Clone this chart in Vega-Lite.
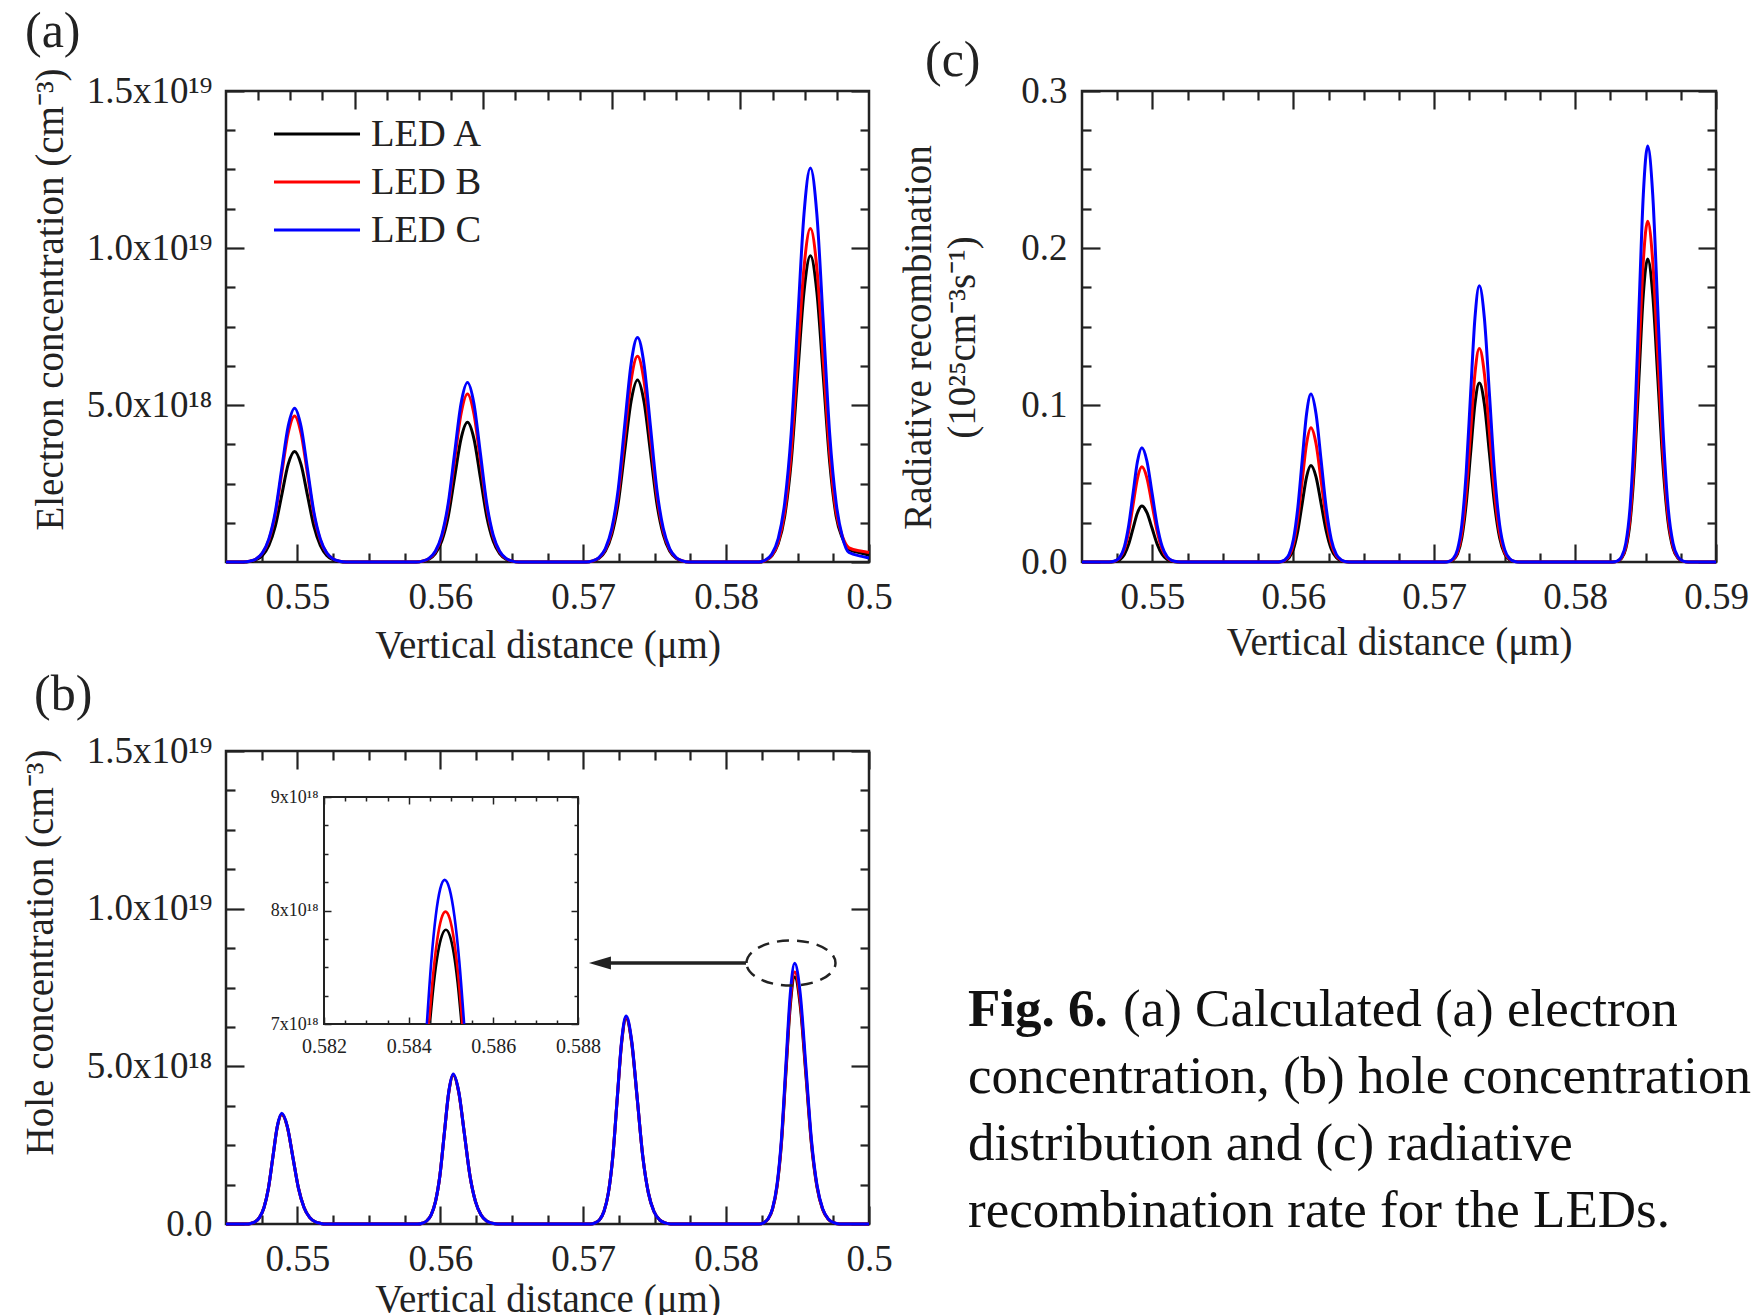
{
"$schema": "https://vega.github.io/schema/vega-lite/v6.json",
"autosize": {"type": "none"},
"padding": {"left": 226, "top": 91, "right": 1526, "bottom": 1224},
"background": "white",
"config": {
  "font": "Liberation Serif",
  "view": {"stroke": "#222", "strokeWidth": 2.5},
  "axis": {"grid": false, "domain": false, "labelFont": "Liberation Serif", "titleFont": "Liberation Serif", "labelFontSize": 37, "titleFontSize": 39, "titleFontWeight": "normal", "labelColor": "#222", "titleColor": "#222", "tickColor": "#222", "tickWidth": 2.2, "labelFlush": false, "labelOverlap": false},
  "title": {"font": "Liberation Serif", "fontSize": 50, "fontWeight": "normal", "color": "#222"}
},
"datasets": {
  "a": [
    {"x":0.545,"A":0,"B":0,"C":0},
    {"x":0.5462,"A":0,"B":0,"C":0},
    {"x":0.54665,"A":0.018e18,"B":0.023e18,"C":0.025e18},
    {"x":0.5471,"A":0.07e18,"B":0.093e18,"C":0.098e18},
    {"x":0.54755,"A":0.21e18,"B":0.28e18,"C":0.29e18},
    {"x":0.548,"A":0.53e18,"B":0.7e18,"C":0.735e18},
    {"x":0.54845,"A":1.14e18,"B":1.51e18,"C":1.59e18},
    {"x":0.5489,"A":2.13e18,"B":2.82e18,"C":2.97e18},
    {"x":0.54935,"A":3.11e18,"B":4.1e18,"C":4.32e18},
    {"x":0.5498,"A":3.52e18,"B":4.65e18,"C":4.9e18},
    {"x":0.55025,"A":3.11e18,"B":4.1e18,"C":4.32e18},
    {"x":0.5507,"A":2.13e18,"B":2.82e18,"C":2.97e18},
    {"x":0.55115,"A":1.14e18,"B":1.51e18,"C":1.59e18},
    {"x":0.5516,"A":0.53e18,"B":0.7e18,"C":0.735e18},
    {"x":0.55205,"A":0.21e18,"B":0.28e18,"C":0.29e18},
    {"x":0.5525,"A":0.07e18,"B":0.093e18,"C":0.098e18},
    {"x":0.55295,"A":0.018e18,"B":0.023e18,"C":0.025e18},
    {"x":0.5534,"A":0,"B":0,"C":0},
    {"x":0.5583,"A":0,"B":0,"C":0},
    {"x":0.55875,"A":0.022e18,"B":0.027e18,"C":0.029e18},
    {"x":0.5592,"A":0.089e18,"B":0.107e18,"C":0.114e18},
    {"x":0.55965,"A":0.267e18,"B":0.321e18,"C":0.343e18},
    {"x":0.5601,"A":0.668e18,"B":0.8e18,"C":0.858e18},
    {"x":0.56055,"A":1.445e18,"B":1.74e18,"C":1.86e18},
    {"x":0.561,"A":2.7e18,"B":3.24e18,"C":3.47e18},
    {"x":0.56145,"A":3.93e18,"B":4.72e18,"C":5.05e18},
    {"x":0.5619,"A":4.45e18,"B":5.35e18,"C":5.72e18},
    {"x":0.56235,"A":3.93e18,"B":4.72e18,"C":5.05e18},
    {"x":0.5628,"A":2.7e18,"B":3.24e18,"C":3.47e18},
    {"x":0.56325,"A":1.445e18,"B":1.74e18,"C":1.86e18},
    {"x":0.5637,"A":0.668e18,"B":0.8e18,"C":0.858e18},
    {"x":0.56415,"A":0.267e18,"B":0.321e18,"C":0.343e18},
    {"x":0.5646,"A":0.089e18,"B":0.107e18,"C":0.114e18},
    {"x":0.56505,"A":0.022e18,"B":0.027e18,"C":0.029e18},
    {"x":0.5655,"A":0,"B":0,"C":0},
    {"x":0.5702,"A":0,"B":0,"C":0},
    {"x":0.57065,"A":0.029e18,"B":0.033e18,"C":0.036e18},
    {"x":0.5711,"A":0.116e18,"B":0.131e18,"C":0.143e18},
    {"x":0.57155,"A":0.348e18,"B":0.393e18,"C":0.429e18},
    {"x":0.572,"A":0.87e18,"B":0.98e18,"C":1.07e18},
    {"x":0.57245,"A":1.88e18,"B":2.13e18,"C":2.32e18},
    {"x":0.5729,"A":3.52e18,"B":3.97e18,"C":4.34e18},
    {"x":0.57335,"A":5.12e18,"B":5.78e18,"C":6.31e18},
    {"x":0.5738,"A":5.8e18,"B":6.55e18,"C":7.15e18},
    {"x":0.57425,"A":5.12e18,"B":5.78e18,"C":6.31e18},
    {"x":0.5747,"A":3.52e18,"B":3.97e18,"C":4.34e18},
    {"x":0.57515,"A":1.88e18,"B":2.13e18,"C":2.32e18},
    {"x":0.5756,"A":0.87e18,"B":0.98e18,"C":1.07e18},
    {"x":0.57605,"A":0.348e18,"B":0.393e18,"C":0.429e18},
    {"x":0.5765,"A":0.116e18,"B":0.131e18,"C":0.143e18},
    {"x":0.57695,"A":0.029e18,"B":0.033e18,"C":0.036e18},
    {"x":0.5774,"A":0,"B":0,"C":0},
    {"x":0.5823,"A":0,"B":0,"C":0},
    {"x":0.58275,"A":0.049e18,"B":0.053e18,"C":0.063e18},
    {"x":0.5832,"A":0.195e18,"B":0.212e18,"C":0.251e18},
    {"x":0.58365,"A":0.585e18,"B":0.637e18,"C":0.753e18},
    {"x":0.5841,"A":1.46e18,"B":1.59e18,"C":1.88e18},
    {"x":0.58455,"A":3.17e18,"B":3.45e18,"C":4.07e18},
    {"x":0.585,"A":5.91e18,"B":6.44e18,"C":7.61e18},
    {"x":0.58545,"A":8.6e18,"B":9.37e18,"C":11.08e18},
    {"x":0.5859,"A":9.75e18,"B":10.62e18,"C":12.55e18},
    {"x":0.58635,"A":8.6e18,"B":9.37e18,"C":11.08e18},
    {"x":0.5868,"A":5.91e18,"B":6.44e18,"C":7.61e18},
    {"x":0.58725,"A":3.17e18,"B":3.45e18,"C":4.07e18},
    {"x":0.5877,"A":1.46e18,"B":1.59e18,"C":1.88e18},
    {"x":0.58815,"A":0.75e18,"B":0.8e18,"C":0.78e18},
    {"x":0.5886,"A":0.4e18,"B":0.45e18,"C":0.3e18},
    {"x":0.5895,"A":0.28e18,"B":0.34e18,"C":0.18e18},
    {"x":0.59,"A":0.22e18,"B":0.3e18,"C":0.13e18}
  ],
  "b": [
    {"x":0.545,"A":0,"B":0,"C":0},
    {"x":0.54642,"A":0,"B":0,"C":0},
    {"x":0.54673,"A":0.0175e18,"B":0.0175e18,"C":0.0175e18},
    {"x":0.54704,"A":0.07e18,"B":0.07e18,"C":0.07e18},
    {"x":0.54735,"A":0.21e18,"B":0.21e18,"C":0.21e18},
    {"x":0.54766,"A":0.525e18,"B":0.525e18,"C":0.525e18},
    {"x":0.54797,"A":1.136e18,"B":1.136e18,"C":1.136e18},
    {"x":0.54828,"A":2.12e18,"B":2.12e18,"C":2.12e18},
    {"x":0.54859,"A":3.08e18,"B":3.09e18,"C":3.1e18},
    {"x":0.5489,"A":3.47e18,"B":3.49e18,"C":3.51e18},
    {"x":0.54929,"A":3.08e18,"B":3.09e18,"C":3.1e18},
    {"x":0.54968,"A":2.12e18,"B":2.12e18,"C":2.12e18},
    {"x":0.55007,"A":1.136e18,"B":1.136e18,"C":1.136e18},
    {"x":0.55046,"A":0.525e18,"B":0.525e18,"C":0.525e18},
    {"x":0.55085,"A":0.21e18,"B":0.21e18,"C":0.21e18},
    {"x":0.55124,"A":0.07e18,"B":0.07e18,"C":0.07e18},
    {"x":0.55163,"A":0.0175e18,"B":0.0175e18,"C":0.0175e18},
    {"x":0.55202,"A":0,"B":0,"C":0},
    {"x":0.55842,"A":0,"B":0,"C":0},
    {"x":0.55873,"A":0.024e18,"B":0.024e18,"C":0.024e18},
    {"x":0.55904,"A":0.095e18,"B":0.095e18,"C":0.095e18},
    {"x":0.55935,"A":0.284e18,"B":0.284e18,"C":0.284e18},
    {"x":0.55966,"A":0.711e18,"B":0.711e18,"C":0.711e18},
    {"x":0.55997,"A":1.539e18,"B":1.539e18,"C":1.539e18},
    {"x":0.56028,"A":2.875e18,"B":2.875e18,"C":2.875e18},
    {"x":0.56059,"A":4.17e18,"B":4.18e18,"C":4.2e18},
    {"x":0.5609,"A":4.72e18,"B":4.74e18,"C":4.76e18},
    {"x":0.56129,"A":4.17e18,"B":4.18e18,"C":4.2e18},
    {"x":0.56168,"A":2.875e18,"B":2.875e18,"C":2.875e18},
    {"x":0.56207,"A":1.539e18,"B":1.539e18,"C":1.539e18},
    {"x":0.56246,"A":0.711e18,"B":0.711e18,"C":0.711e18},
    {"x":0.56285,"A":0.284e18,"B":0.284e18,"C":0.284e18},
    {"x":0.56324,"A":0.095e18,"B":0.095e18,"C":0.095e18},
    {"x":0.56363,"A":0.024e18,"B":0.024e18,"C":0.024e18},
    {"x":0.56402,"A":0,"B":0,"C":0},
    {"x":0.57052,"A":0,"B":0,"C":0},
    {"x":0.57083,"A":0.033e18,"B":0.033e18,"C":0.033e18},
    {"x":0.57114,"A":0.132e18,"B":0.132e18,"C":0.132e18},
    {"x":0.57145,"A":0.395e18,"B":0.395e18,"C":0.395e18},
    {"x":0.57176,"A":0.987e18,"B":0.987e18,"C":0.987e18},
    {"x":0.57207,"A":2.137e18,"B":2.137e18,"C":2.137e18},
    {"x":0.57238,"A":3.96e18,"B":3.98e18,"C":3.99e18},
    {"x":0.57269,"A":5.75e18,"B":5.78e18,"C":5.82e18},
    {"x":0.573,"A":6.52e18,"B":6.55e18,"C":6.6e18},
    {"x":0.57339,"A":5.75e18,"B":5.78e18,"C":5.82e18},
    {"x":0.57378,"A":3.96e18,"B":3.98e18,"C":3.99e18},
    {"x":0.57417,"A":2.137e18,"B":2.137e18,"C":2.137e18},
    {"x":0.57456,"A":0.987e18,"B":0.987e18,"C":0.987e18},
    {"x":0.57495,"A":0.395e18,"B":0.395e18,"C":0.395e18},
    {"x":0.57534,"A":0.132e18,"B":0.132e18,"C":0.132e18},
    {"x":0.57573,"A":0.033e18,"B":0.033e18,"C":0.033e18},
    {"x":0.57612,"A":0,"B":0,"C":0},
    {"x":0.58232,"A":0,"B":0,"C":0},
    {"x":0.58263,"A":0.039e18,"B":0.04e18,"C":0.041e18},
    {"x":0.58294,"A":0.157e18,"B":0.16e18,"C":0.165e18},
    {"x":0.58325,"A":0.47e18,"B":0.479e18,"C":0.496e18},
    {"x":0.58356,"A":1.175e18,"B":1.199e18,"C":1.24e18},
    {"x":0.58387,"A":2.542e18,"B":2.594e18,"C":2.685e18},
    {"x":0.58418,"A":4.749e18,"B":4.846e18,"C":5.016e18},
    {"x":0.58449,"A":6.91e18,"B":7.051e18,"C":7.298e18},
    {"x":0.5848,"A":7.83e18,"B":7.99e18,"C":8.27e18},
    {"x":0.58519,"A":6.91e18,"B":7.051e18,"C":7.298e18},
    {"x":0.58558,"A":4.749e18,"B":4.846e18,"C":5.016e18},
    {"x":0.58597,"A":2.542e18,"B":2.594e18,"C":2.685e18},
    {"x":0.58636,"A":1.175e18,"B":1.199e18,"C":1.24e18},
    {"x":0.58675,"A":0.47e18,"B":0.479e18,"C":0.496e18},
    {"x":0.58714,"A":0.157e18,"B":0.16e18,"C":0.165e18},
    {"x":0.58753,"A":0.039e18,"B":0.04e18,"C":0.041e18},
    {"x":0.58792,"A":0,"B":0,"C":0},
    {"x":0.59,"A":0,"B":0,"C":0}
  ],
  "c": [
    {"x":0.545,"A":0,"B":0,"C":0},
    {"x":0.54677,"A":0,"B":0,"C":0},
    {"x":0.54708,"A":0.00007,"B":0.00012,"C":0.00015},
    {"x":0.54739,"A":0.00043,"B":0.00073,"C":0.00087},
    {"x":0.5477,"A":0.0016,"B":0.00273,"C":0.00327},
    {"x":0.54801,"A":0.0048,"B":0.0082,"C":0.00984},
    {"x":0.54832,"A":0.01156,"B":0.01968,"C":0.02361},
    {"x":0.54863,"A":0.0216,"B":0.03675,"C":0.04409},
    {"x":0.54894,"A":0.0314,"B":0.05348,"C":0.06416},
    {"x":0.54925,"A":0.0356,"B":0.0606,"C":0.0727},
    {"x":0.54961,"A":0.0314,"B":0.05348,"C":0.06416},
    {"x":0.54997,"A":0.0216,"B":0.03675,"C":0.04409},
    {"x":0.55033,"A":0.01156,"B":0.01968,"C":0.02361},
    {"x":0.55069,"A":0.0048,"B":0.0082,"C":0.00984},
    {"x":0.55105,"A":0.0016,"B":0.00273,"C":0.00327},
    {"x":0.55141,"A":0.00043,"B":0.00073,"C":0.00087},
    {"x":0.55177,"A":0.00007,"B":0.00012,"C":0.00015},
    {"x":0.55213,"A":0,"B":0,"C":0},
    {"x":0.55877,"A":0,"B":0,"C":0},
    {"x":0.55908,"A":0.00012,"B":0.00017,"C":0.00021},
    {"x":0.55939,"A":0.00074,"B":0.00103,"C":0.00128},
    {"x":0.5597,"A":0.00277,"B":0.00385,"C":0.00482},
    {"x":0.56001,"A":0.00832,"B":0.01157,"C":0.01448},
    {"x":0.56032,"A":0.01997,"B":0.02776,"C":0.03474},
    {"x":0.56063,"A":0.0373,"B":0.05186,"C":0.0649},
    {"x":0.56094,"A":0.05427,"B":0.07545,"C":0.09443},
    {"x":0.56125,"A":0.0615,"B":0.0855,"C":0.107},
    {"x":0.56161,"A":0.05427,"B":0.07545,"C":0.09443},
    {"x":0.56197,"A":0.0373,"B":0.05186,"C":0.0649},
    {"x":0.56233,"A":0.01997,"B":0.02776,"C":0.03474},
    {"x":0.56269,"A":0.00832,"B":0.01157,"C":0.01448},
    {"x":0.56305,"A":0.00277,"B":0.00385,"C":0.00482},
    {"x":0.56341,"A":0.00074,"B":0.00103,"C":0.00128},
    {"x":0.56377,"A":0.00012,"B":0.00017,"C":0.00021},
    {"x":0.56413,"A":0,"B":0,"C":0},
    {"x":0.57072,"A":0,"B":0,"C":0},
    {"x":0.57103,"A":0.00023,"B":0.00027,"C":0.00035},
    {"x":0.57134,"A":0.00137,"B":0.00163,"C":0.00211},
    {"x":0.57165,"A":0.00513,"B":0.00612,"C":0.00792},
    {"x":0.57196,"A":0.01542,"B":0.0184,"C":0.02381},
    {"x":0.57227,"A":0.03702,"B":0.04416,"C":0.05715},
    {"x":0.57258,"A":0.06914,"B":0.08248,"C":0.10674},
    {"x":0.57289,"A":0.1006,"B":0.12002,"C":0.15532},
    {"x":0.5732,"A":0.114,"B":0.136,"C":0.176},
    {"x":0.57356,"A":0.1006,"B":0.12002,"C":0.15532},
    {"x":0.57392,"A":0.06914,"B":0.08248,"C":0.10674},
    {"x":0.57428,"A":0.03702,"B":0.04416,"C":0.05715},
    {"x":0.57464,"A":0.01542,"B":0.0184,"C":0.02381},
    {"x":0.575,"A":0.00513,"B":0.00612,"C":0.00792},
    {"x":0.57536,"A":0.00137,"B":0.00163,"C":0.00211},
    {"x":0.57572,"A":0.00023,"B":0.00027,"C":0.00035},
    {"x":0.57608,"A":0,"B":0,"C":0},
    {"x":0.58267,"A":0,"B":0,"C":0},
    {"x":0.58298,"A":0.00039,"B":0.00043,"C":0.00053},
    {"x":0.58329,"A":0.00232,"B":0.0026,"C":0.00318},
    {"x":0.5836,"A":0.00869,"B":0.00977,"C":0.01193},
    {"x":0.58391,"A":0.02611,"B":0.02936,"C":0.03585},
    {"x":0.58422,"A":0.06267,"B":0.07046,"C":0.08605},
    {"x":0.58453,"A":0.11705,"B":0.13161,"C":0.16072},
    {"x":0.58484,"A":0.17032,"B":0.1915,"C":0.23386},
    {"x":0.58515,"A":0.193,"B":0.217,"C":0.265},
    {"x":0.58551,"A":0.17032,"B":0.1915,"C":0.23386},
    {"x":0.58587,"A":0.11705,"B":0.13161,"C":0.16072},
    {"x":0.58623,"A":0.06267,"B":0.07046,"C":0.08605},
    {"x":0.58659,"A":0.02611,"B":0.02936,"C":0.03585},
    {"x":0.58695,"A":0.00869,"B":0.00977,"C":0.01193},
    {"x":0.58731,"A":0.00232,"B":0.0026,"C":0.00318},
    {"x":0.58767,"A":0.00039,"B":0.00043,"C":0.00053},
    {"x":0.58803,"A":0,"B":0,"C":0},
    {"x":0.59,"A":0,"B":0,"C":0}
  ],
  "ins": [
    {"led":"A","x":0.5845,"y":7.0e18},
    {"led":"A","x":0.584595,"y":7.363e18},
    {"led":"A","x":0.58469,"y":7.6225e18},
    {"led":"A","x":0.584785,"y":7.778e18},
    {"led":"A","x":0.58488,"y":7.83e18},
    {"led":"A","x":0.5849725,"y":7.778e18},
    {"led":"A","x":0.585065,"y":7.6225e18},
    {"led":"A","x":0.5851575,"y":7.363e18},
    {"led":"A","x":0.58525,"y":7.0e18},
    {"led":"B","x":0.58448,"y":7.0e18},
    {"led":"B","x":0.5845775,"y":7.433e18},
    {"led":"B","x":0.584675,"y":7.7425e18},
    {"led":"B","x":0.5847725,"y":7.928e18},
    {"led":"B","x":0.58487,"y":7.99e18},
    {"led":"B","x":0.58497,"y":7.928e18},
    {"led":"B","x":0.58507,"y":7.7425e18},
    {"led":"B","x":0.58517,"y":7.433e18},
    {"led":"B","x":0.58527,"y":7.0e18},
    {"led":"C","x":0.58443,"y":7.0e18},
    {"led":"C","x":0.584535,"y":7.556e18},
    {"led":"C","x":0.58464,"y":7.9525e18},
    {"led":"C","x":0.584745,"y":8.19e18},
    {"led":"C","x":0.58485,"y":8.27e18},
    {"led":"C","x":0.584965,"y":8.19e18},
    {"led":"C","x":0.58508,"y":7.9525e18},
    {"led":"C","x":0.585195,"y":7.556e18},
    {"led":"C","x":0.58531,"y":7.0e18}
  ],
  "cap": [
    {"line":1,"head":"Fig. 6.","text":"(a) Calculated (a) electron"},
    {"line":2,"text":"concentration, (b) hole concentration"},
    {"line":3,"text":"distribution and (c) radiative"},
    {"line":4,"text":"recombination rate for the LEDs."}
  ]
},
"columns": 2,
"spacing": {"row": 189, "column": 213},
"bounds": "flush",
"resolve": {"scale": {"color": "independent"}, "legend": {"color": "independent"}},
"concat": [
  {
    "width": 643, "height": 471,
    "title": {"text": "(a)", "anchor": "start", "frame": "group", "dx": -201, "offset": -39, "baseline": "bottom"},
    "layer": [
      {
        "data": {"name": "a"},
        "transform": [{"fold": ["A", "B", "C"], "as": ["led", "n"]}],
        "mark": {"type": "line", "strokeWidth": 3, "interpolate": "monotone"},
        "encoding": {
          "x": {"field": "x", "type": "quantitative", "scale": {"domain": [0.545, 0.59], "nice": false, "zero": false},
            "axis": {"orient": "bottom", "values": [0.5475,0.55,0.5525,0.555,0.5575,0.56,0.5625,0.565,0.5675,0.57,0.5725,0.575,0.5775,0.58,0.5825,0.585,0.5875,0.59],
              "labelExpr": "abs(datum.value*100-round(datum.value*100))<0.01 ? (datum.value>0.585 ? '0.5' : format(datum.value,'.2f')) : ''",
              "tickSize": {"condition": {"test": "abs(datum.value*100-round(datum.value*100))<0.01", "value": -18}, "value": -9},
              "labelPadding": 35, "title": "Vertical distance (μm)", "titleY": 95, "titleBaseline": "alphabetic"}},
          "y": {"field": "n", "type": "quantitative", "scale": {"domain": [0, 1.5e19], "nice": false},
            "axis": {"orient": "left", "values": [0,1.25e18,2.5e18,3.75e18,5e18,6.25e18,7.5e18,8.75e18,1e19,1.125e19,1.25e19,1.375e19,1.5e19],
              "labelExpr": "datum.value==5e18 ? '5.0x10¹⁸' : datum.value==1e19 ? '1.0x10¹⁹' : datum.value==1.5e19 ? '1.5x10¹⁹' : ''",
              "tickSize": {"condition": {"test": "abs(datum.value/5e18-round(datum.value/5e18))<0.01", "value": -18}, "value": -9},
              "labelPadding": 32, "title": "Electron concentration (cm⁻³)", "titleX": -164, "titleY": 208, "titleAngle": -90, "titleAlign": "center", "titleBaseline": "alphabetic"}},
          "color": {"field": "led", "type": "nominal", "scale": {"domain": ["A", "B", "C"], "range": ["#000000", "#ff0000", "#0000ff"]},
            "legend": {"orient": "none", "legendX": 46, "legendY": 19, "title": null, "symbolType": "stroke", "symbolSize": 7400, "symbolStrokeWidth": 3, "labelFontSize": 38.5, "labelFont": "Liberation Serif", "labelColor": "#222", "labelOffset": 9, "rowPadding": 0, "clipHeight": 48, "padding": 0, "labelLimit": 400, "labelExpr": "'LED ' + datum.label"}}
        }
      },
      {
        "data": {"values": [{}]},
        "mark": {"type": "point", "opacity": 0},
        "encoding": {
          "x": {"datum": 0, "type": "quantitative", "scale": {"domain": [0, 5], "nice": false, "zero": false},
            "axis": {"orient": "top", "values": [0.25,0.5,0.75,1,1.25,1.5,1.75,2,2.25,2.5,2.75,3,3.25,3.5,3.75,4,4.25,4.5,4.75], "labels": false, "title": null,
              "tickSize": {"condition": {"test": "abs(datum.value-round(datum.value))<0.01", "value": -18}, "value": -9}}},
          "y": {"datum": 0, "type": "quantitative", "scale": {"domain": [0, 1.5e19], "nice": false},
            "axis": {"orient": "right", "values": [0,1.25e18,2.5e18,3.75e18,5e18,6.25e18,7.5e18,8.75e18,1e19,1.125e19,1.25e19,1.375e19,1.5e19], "labels": false, "title": null,
              "tickSize": {"condition": {"test": "abs(datum.value/5e18-round(datum.value/5e18))<0.01", "value": -18}, "value": -9}}}
        }
      }
    ],
    "resolve": {"scale": {"x": "independent", "y": "independent"}}
  },
  {
    "width": 634, "height": 471,
    "title": {"text": "(c)", "anchor": "start", "frame": "group", "dx": -157, "offset": -64, "baseline": "bottom"},
    "layer": [
      {
        "data": {"name": "c"},
        "transform": [{"fold": ["A", "B", "C"], "as": ["led", "r"]}],
        "mark": {"type": "line", "strokeWidth": 3, "interpolate": "monotone"},
        "encoding": {
          "x": {"field": "x", "type": "quantitative", "scale": {"domain": [0.545, 0.59], "nice": false, "zero": false},
            "axis": {"orient": "bottom", "values": [0.5475,0.55,0.5525,0.555,0.5575,0.56,0.5625,0.565,0.5675,0.57,0.5725,0.575,0.5775,0.58,0.5825,0.585,0.5875,0.59],
              "labelExpr": "abs(datum.value*100-round(datum.value*100))<0.01 ? format(datum.value,'.2f') : ''",
              "tickSize": {"condition": {"test": "abs(datum.value*100-round(datum.value*100))<0.01", "value": -18}, "value": -9},
              "labelPadding": 35, "title": "Vertical distance (μm)", "titleY": 92, "titleBaseline": "alphabetic"}},
          "y": {"field": "r", "type": "quantitative", "scale": {"domain": [0, 0.3], "nice": false},
            "axis": {"orient": "left", "values": [0,0.025,0.05,0.075,0.1,0.125,0.15,0.175,0.2,0.225,0.25,0.275,0.3],
              "labelExpr": "abs(datum.value*10-round(datum.value*10))<0.01 ? format(datum.value,'.1f') : ''",
              "tickSize": {"condition": {"test": "abs(datum.value*10-round(datum.value*10))<0.01", "value": -18}, "value": -9},
              "labelPadding": 33, "title": ["Radiative recombination", "(10²⁵cm⁻³s⁻¹)"], "titleX": -152, "titleY": 246, "titleAngle": -90, "titleAlign": "center", "titleBaseline": "alphabetic", "titleLineHeight": 44}},
          "color": {"field": "led", "type": "nominal", "scale": {"domain": ["A", "B", "C"], "range": ["#000000", "#ff0000", "#0000ff"]}, "legend": null}
        }
      },
      {
        "data": {"values": [{}]},
        "mark": {"type": "point", "opacity": 0},
        "encoding": {
          "x": {"datum": 0.56, "type": "quantitative", "scale": {"domain": [0.545, 0.59], "nice": false, "zero": false},
            "axis": {"orient": "top", "values": [0.5475,0.55,0.5525,0.555,0.5575,0.56,0.5625,0.565,0.5675,0.57,0.5725,0.575,0.5775,0.58,0.5825,0.585,0.5875,0.59], "labels": false, "title": null,
              "tickSize": {"condition": {"test": "abs(datum.value*100-round(datum.value*100))<0.01", "value": -18}, "value": -9}}},
          "y": {"datum": 0, "type": "quantitative", "scale": {"domain": [0, 0.3], "nice": false},
            "axis": {"orient": "right", "values": [0,0.025,0.05,0.075,0.1,0.125,0.15,0.175,0.2,0.225,0.25,0.275,0.3], "labels": false, "title": null,
              "tickSize": {"condition": {"test": "abs(datum.value*10-round(datum.value*10))<0.01", "value": -18}, "value": -9}}}
        }
      }
    ],
    "resolve": {"scale": {"x": "independent", "y": "independent"}}
  },
  {
    "width": 643, "height": 473,
    "title": {"text": "(b)", "anchor": "start", "frame": "group", "dx": -192, "offset": -38, "baseline": "bottom"},
    "layer": [
      {
        "data": {"name": "b"},
        "transform": [{"fold": ["A", "B", "C"], "as": ["led", "p"]}],
        "mark": {"type": "line", "strokeWidth": 3, "interpolate": "monotone"},
        "encoding": {
          "x": {"field": "x", "type": "quantitative", "scale": {"domain": [0.545, 0.59], "nice": false, "zero": false},
            "axis": {"orient": "bottom", "values": [0.5475,0.55,0.5525,0.555,0.5575,0.56,0.5625,0.565,0.5675,0.57,0.5725,0.575,0.5775,0.58,0.5825,0.585,0.5875,0.59],
              "labelExpr": "abs(datum.value*100-round(datum.value*100))<0.01 ? (datum.value>0.585 ? '0.5' : format(datum.value,'.2f')) : ''",
              "tickSize": {"condition": {"test": "abs(datum.value*100-round(datum.value*100))<0.01", "value": -18}, "value": -9},
              "labelPadding": 35, "title": "Vertical distance (μm)", "titleY": 87, "titleBaseline": "alphabetic"}},
          "y": {"field": "p", "type": "quantitative", "scale": {"domain": [0, 1.5e19], "nice": false},
            "axis": {"orient": "left", "values": [0,1.25e18,2.5e18,3.75e18,5e18,6.25e18,7.5e18,8.75e18,1e19,1.125e19,1.25e19,1.375e19,1.5e19],
              "labelExpr": "datum.value==0 ? '0.0' : datum.value==5e18 ? '5.0x10¹⁸' : datum.value==1e19 ? '1.0x10¹⁹' : datum.value==1.5e19 ? '1.5x10¹⁹' : ''",
              "tickSize": {"condition": {"test": "abs(datum.value/5e18-round(datum.value/5e18))<0.01", "value": -18}, "value": -9},
              "labelPadding": 32, "title": "Hole concentration (cm⁻³)", "titleX": -174, "titleY": 201, "titleAngle": -90, "titleAlign": "center", "titleBaseline": "alphabetic"}},
          "color": {"field": "led", "type": "nominal", "scale": {"domain": ["A", "B", "C"], "range": ["#000000", "#ff0000", "#0000ff"]}, "legend": null}
        }
      },
      {
        "data": {"values": [{}]},
        "mark": {"type": "point", "opacity": 0},
        "encoding": {
          "x": {"datum": 0.56, "type": "quantitative", "scale": {"domain": [0.545, 0.59], "nice": false, "zero": false},
            "axis": {"orient": "top", "values": [0.5475,0.55,0.5525,0.555,0.5575,0.56,0.5625,0.565,0.5675,0.57,0.5725,0.575,0.5775,0.58,0.5825,0.585,0.5875,0.59], "labels": false, "title": null,
              "tickSize": {"condition": {"test": "abs(datum.value*100-round(datum.value*100))<0.01", "value": -18}, "value": -9}}},
          "y": {"datum": 0, "type": "quantitative", "scale": {"domain": [0, 1.5e19], "nice": false},
            "axis": {"orient": "right", "values": [0,1.25e18,2.5e18,3.75e18,5e18,6.25e18,7.5e18,8.75e18,1e19,1.125e19,1.25e19,1.375e19,1.5e19], "labels": false, "title": null,
              "tickSize": {"condition": {"test": "abs(datum.value/5e18-round(datum.value/5e18))<0.01", "value": -18}, "value": -9}}}
        }
      },
      {
        "data": {"values": [{}]},
        "mark": {"type": "point", "shape": "M-1,0A1,0.506,0,1,1,1,0A1,0.506,0,1,1,-1,0Z", "size": 7921, "filled": false, "stroke": "#222", "strokeWidth": 2.5, "strokeDash": [12, 8], "opacity": 1},
        "encoding": {
          "x": {"datum": 0.58454, "type": "quantitative", "scale": {"domain": [0.545, 0.59], "nice": false, "zero": false}, "axis": null},
          "y": {"datum": 8.277e18, "type": "quantitative", "scale": {"domain": [0, 1.5e19], "nice": false}, "axis": null}
        }
      },
      {
        "data": {"values": [{}]},
        "mark": {"type": "rule", "stroke": "#222", "strokeWidth": 3.5},
        "encoding": {
          "x": {"datum": 0.5712, "type": "quantitative", "scale": {"domain": [0.545, 0.59], "nice": false, "zero": false}, "axis": null},
          "x2": {"datum": 0.58139},
          "y": {"datum": 8.277e18, "type": "quantitative", "scale": {"domain": [0, 1.5e19], "nice": false}, "axis": null}
        }
      },
      {
        "data": {"values": [{}]},
        "mark": {"type": "point", "shape": "M-1,0L1,-0.6L1,0.6Z", "size": 484, "filled": true, "fill": "#222", "opacity": 1},
        "encoding": {
          "x": {"datum": 0.57117, "type": "quantitative", "scale": {"domain": [0.545, 0.59], "nice": false, "zero": false}, "axis": null},
          "y": {"datum": 8.277e18, "type": "quantitative", "scale": {"domain": [0, 1.5e19], "nice": false}, "axis": null}
        }
      },
      {
        "data": {"values": [{}]},
        "mark": {"type": "rect", "fill": "white", "stroke": "#222", "strokeWidth": 2},
        "encoding": {
          "x": {"datum": 0.582, "type": "quantitative", "scale": {"domain": [0.582, 0.588], "range": [98, 352], "nice": false, "zero": false},
            "axis": {"orient": "bottom", "offset": -200, "zindex": 1, "values": [0.582,0.5825,0.583,0.5835,0.584,0.5845,0.585,0.5855,0.586,0.5865,0.587,0.5875,0.588],
              "labelExpr": "abs(datum.value*500-round(datum.value*500))<0.01 ? format(datum.value,'.3f') : ''",
              "tickSize": {"condition": {"test": "abs(datum.value*500-round(datum.value*500))<0.01", "value": -7}, "value": -4},
              "tickWidth": 1.5, "labelFontSize": 20, "labelPadding": 19, "title": null}},
          "x2": {"datum": 0.588},
          "y": {"datum": 7e18, "type": "quantitative", "scale": {"domain": [7e18, 9e18], "range": [273, 46], "nice": false, "zero": false},
            "axis": {"orient": "left", "offset": -98, "zindex": 1, "values": [7e18,7.25e18,7.5e18,7.75e18,8e18,8.25e18,8.5e18,8.75e18,9e18],
              "labelExpr": "abs(datum.value/1e18-round(datum.value/1e18))<0.01 ? format(datum.value/1e18,'d') + 'x10¹⁸' : ''",
              "tickSize": {"condition": {"test": "abs(datum.value/1e18-round(datum.value/1e18))<0.01", "value": -7}, "value": -4},
              "tickWidth": 1.5, "labelFontSize": 18, "labelPadding": 13, "title": null}},
          "y2": {"datum": 9e18}
        }
      },
      {
        "data": {"name": "ins"},
        "mark": {"type": "line", "strokeWidth": 2.6, "interpolate": "monotone"},
        "encoding": {
          "x": {"field": "x", "type": "quantitative", "scale": {"domain": [0.582, 0.588], "range": [98, 352], "nice": false, "zero": false}, "axis": null},
          "y": {"field": "y", "type": "quantitative", "scale": {"domain": [7e18, 9e18], "range": [273, 46], "nice": false, "zero": false}, "axis": null},
          "color": {"field": "led", "type": "nominal", "scale": {"domain": ["A", "B", "C"], "range": ["#000000", "#ff0000", "#0000ff"]}, "legend": null}
        }
      },
      {
        "data": {"values": [{}]},
        "mark": {"type": "point", "opacity": 0},
        "encoding": {
          "x": {"datum": 0.585, "type": "quantitative", "scale": {"domain": [0.582, 0.588], "range": [98, 352], "nice": false, "zero": false},
            "axis": {"orient": "top", "offset": -46, "zindex": 1, "values": [0.582,0.5825,0.583,0.5835,0.584,0.5845,0.585,0.5855,0.586,0.5865,0.587,0.5875,0.588], "labels": false, "title": null, "tickWidth": 1.5,
              "tickSize": {"condition": {"test": "abs(datum.value*500-round(datum.value*500))<0.01", "value": -7}, "value": -4}}},
          "y": {"datum": 8e18, "type": "quantitative", "scale": {"domain": [7e18, 9e18], "range": [273, 46], "nice": false, "zero": false},
            "axis": {"orient": "right", "offset": -291, "zindex": 1, "values": [7e18,7.25e18,7.5e18,7.75e18,8e18,8.25e18,8.5e18,8.75e18,9e18], "labels": false, "title": null, "tickWidth": 1.5,
              "tickSize": {"condition": {"test": "abs(datum.value/1e18-round(datum.value/1e18))<0.01", "value": -7}, "value": -4}}}
        }
      }
    ],
    "resolve": {"scale": {"x": "independent", "y": "independent"}}
  },
  {
    "width": 634, "height": 473,
    "view": {"stroke": null},
    "data": {"name": "cap"},
    "encoding": {
      "y": {"field": "line", "type": "ordinal", "scale": {"type": "point", "range": [275, 476], "padding": 0}, "axis": null},
      "x": {"value": -114}
    },
    "layer": [
      {
        "transform": [{"filter": "datum.head"}],
        "mark": {"type": "text", "align": "left", "baseline": "alphabetic", "fontSize": 53, "fontWeight": "bold", "font": "Liberation Serif", "color": "#111"},
        "encoding": {"text": {"field": "head"}}
      },
      {
        "transform": [{"filter": "datum.line == 1"}],
        "mark": {"type": "text", "align": "left", "baseline": "alphabetic", "fontSize": 53, "font": "Liberation Serif", "color": "#111", "dx": 155},
        "encoding": {"text": {"field": "text"}}
      },
      {
        "transform": [{"filter": "datum.line > 1"}],
        "mark": {"type": "text", "align": "left", "baseline": "alphabetic", "fontSize": 53, "font": "Liberation Serif", "color": "#111"},
        "encoding": {"text": {"field": "text"}}
      }
    ]
  }
]
}
